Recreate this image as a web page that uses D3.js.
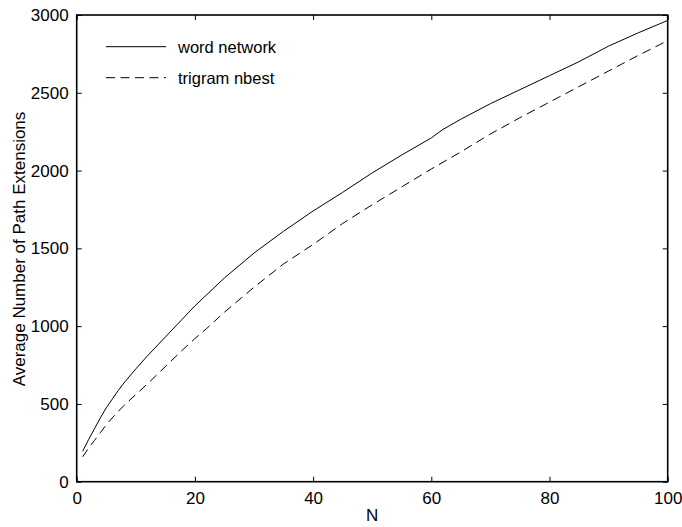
<!DOCTYPE html>
<html>
<head>
<meta charset="utf-8">
<script src="https://cdn.jsdelivr.net/npm/d3@7"></script>
<style>
  html, body { margin: 0; padding: 0; background: #fff; }
  svg { display: block; font-family: "Liberation Sans", Arial, Helvetica, sans-serif; }
</style>
</head>
<body>
<svg id="chart" width="682" height="527"></svg>
<script>
// ---- data ----
const wordN = [1,2,3,4,5,6,7,8,10,12,15,17,20,25,30,35,40,45,50,55,60,62,65,70,75,80,85,90,95,100];
const wordValues = [195,270,340,410,475,530,585,635,725,810,930,1010,1130,1310,1470,1610,1740,1860,1985,2100,2210,2265,2330,2430,2520,2610,2700,2800,2885,2965];
const trigramN = [1,2,3,4,5,6,8,10,12,15,18,20,22,25,30,35,40,45,50,55,60,65,70,75,80,85,90,95,100];
const trigramValues = [160,215,265,315,365,410,490,560,630,740,850,920,985,1090,1250,1400,1525,1660,1780,1895,2010,2120,2235,2340,2440,2540,2640,2740,2835];
const xTicks = [0,20,40,60,80,100];
const yTicks = [0,500,1000,1500,2000,2500,3000];
const seriesNames = ["word network", "trigram nbest"];
const xLabel = "N";
const yLabel = "Average Number of Path Extensions";

// ---- layout ----
const svg = d3.select("#chart");
const pL = 76.7, pR = 667.7, pT = 15, pB = 481.7;
const x = d3.scaleLinear().domain([0, 100]).range([pL, pR]);
const y = d3.scaleLinear().domain([0, 3000]).range([pB, pT]);
const fs = 17;

// lines
const line = d3.line().x(d => x(d[0])).y(d => y(d[1]));
const series = [
  { name: seriesNames[0], pts: wordN.map((n, i) => [n, wordValues[i]]), dash: null },
  { name: seriesNames[1], pts: trigramN.map((n, i) => [n, trigramValues[i]]), dash: "9,5.5" }
];
series.forEach(s => {
  svg.append("path").attr("d", line(s.pts)).attr("fill", "none")
    .attr("stroke", "#000").attr("stroke-width", 1)
    .attr("stroke-dasharray", s.dash);
});

// axes (inward ticks, box)
const tl = 5;
const fmt = d3.format("d");
svg.append("g").attr("transform", `translate(0,${pB})`)
  .call(d3.axisBottom(x).tickValues(xTicks).tickFormat(fmt).tickSize(-tl).tickPadding(tl + 5).tickSizeOuter(0))
  .call(g => g.select(".domain").remove());
svg.append("g").attr("transform", `translate(0,${pT})`)
  .call(d3.axisTop(x).tickValues(xTicks).tickSize(-tl).tickFormat("").tickSizeOuter(0))
  .call(g => g.select(".domain").remove());
svg.append("g").attr("transform", `translate(${pL},0)`)
  .call(d3.axisLeft(y).tickValues(yTicks).tickFormat(fmt).tickSize(-tl).tickPadding(tl + 3).tickSizeOuter(0))
  .call(g => g.select(".domain").remove());
svg.append("g").attr("transform", `translate(${pR},0)`)
  .call(d3.axisRight(y).tickValues(yTicks).tickSize(-tl).tickFormat("").tickSizeOuter(0))
  .call(g => g.select(".domain").remove());
svg.selectAll(".tick line").attr("stroke", "#000").attr("stroke-width", 1);
svg.selectAll(".tick text").attr("font-size", fs).attr("fill", "#000")
  .attr("font-family", "'Liberation Sans', Arial, sans-serif");

svg.append("rect").attr("x", pL).attr("y", pT)
  .attr("width", pR - pL).attr("height", pB - pT)
  .attr("fill", "none").attr("stroke", "#000").attr("stroke-width", 1.6);

// axis labels
svg.append("text").attr("x", (pL + pR) / 2).attr("y", 521)
  .attr("text-anchor", "middle").attr("font-size", fs).text(xLabel);
svg.append("text").attr("transform", `translate(25,249) rotate(-90)`)
  .attr("text-anchor", "middle").attr("font-size", fs).text(yLabel);

// legend
const legY = [46.7, 77.7];
series.forEach((s, i) => {
  svg.append("line").attr("x1", 106).attr("x2", 166).attr("y1", legY[i]).attr("y2", legY[i])
    .attr("stroke", "#000").attr("stroke-width", 1).attr("stroke-dasharray", s.dash);
  svg.append("text").attr("x", 178).attr("y", legY[i] + 6).attr("font-size", 16.5).text(s.name);
});
</script>
</body>
</html>
